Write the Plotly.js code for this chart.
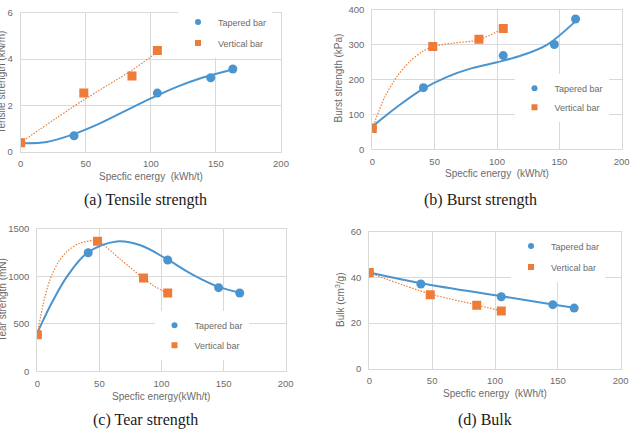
<!DOCTYPE html>
<html>
<head>
<meta charset="utf-8">
<script src="https://cdn.plot.ly/plotly-3.0.1.min.js"></script>
<style>html,body{margin:0;padding:0;background:#fff}#chart{width:630px;height:436px}</style>
</head>
<body>
<div id="chart"></div>
<script>
// ---------- data ----------
const taperedEnergy = [0, 41, 105, 146, 163];
const verticalEnergy = [0, 48.5, 85.5, 105];

const tensileTapered = [0.39, 0.69, 2.53, 3.19, 3.57];
const tensileVertical = [0.39, 2.53, 3.27, 4.37];
const burstTapered = [62, 177, 269, 301, 374];
const burstVertical = [60, 295, 316, 347];
const tearTapered = [386, 1250, 1173, 882, 825];
const tearVertical = [386, 1370, 983, 825];
const bulkTapered = [42, 37.2, 31.6, 28.1, 26.6];
const bulkVertical = [42.2, 32.5, 27.8, 25.3];

// trend curves as drawn in the reference
const tensileTaperedFitX = [0, 20, 40, 60, 80, 100, 120, 140, 163];
const tensileTaperedFitY = [0.37, 0.42, 0.74, 1.2, 1.75, 2.3, 2.8, 3.2, 3.55];
const tensileVerticalFitX = [0, 48, 85, 105];
const tensileVerticalFitY = [0.4, 2.22, 3.5, 4.3];

const burstTaperedFitX = [0, 20, 40, 60, 80, 100, 120, 140, 163];
const burstTaperedFitY = [65, 122, 172, 208, 233, 250, 270, 300, 368];
const burstVerticalFitX = [0, 10, 20, 30, 40, 48, 65, 85, 105];
const burstVerticalFitY = [60, 150, 210, 252, 280, 294, 305, 314, 347];

const tearTaperedFitX = [0, 5, 12, 24, 40, 64, 83, 105, 125, 146, 163];
const tearTaperedFitY = [404, 545, 730, 1000, 1245, 1368, 1328, 1177, 1020, 890, 830];
const tearVerticalFitX = [0, 5, 10, 17, 24, 34, 45, 49, 67, 85, 95, 105];
const tearVerticalFitY = [400, 720, 960, 1150, 1265, 1350, 1378, 1372, 1180, 985, 890, 825];

const bulkTaperedFitX = [0, 41, 105, 146, 163];
const bulkTaperedFitY = [42.2, 37.5, 31.8, 28.2, 26.8];
const bulkVerticalFitX = [0, 48.5, 85.5, 105];
const bulkVerticalFitY = [42, 32.8, 28, 25.3];

const seriesNames = ['Tapered bar', 'Vertical bar'];
const captions = ['(a) Tensile strength', '(b) Burst strength', '(c) Tear strength', '(d) Bulk'];
const yTitles = ['Tensile strength (kN/m)', 'Burst strength (kPa)', 'Tear strength (mN)', 'Bulk (cm<sup>3</sup>/g)'];
const xTitles = ['Specfic energy  (kWh/t)', 'Specfic energy  (kWh/t)', 'Specfic energy(kWh/t)', 'Specfic energy  (kWh/t)'];
const yRanges = [[0, 6], [0, 400], [0, 1500], [0, 60]];
const yDticks = [2, 100, 500, 20];

// ---------- styling / layout ----------
const W = 630, H = 436;
const BLUE = '#4a95d0', ORANGE = '#ee7b38', GRID = '#d9d9d9', TXT = '#6b6b6b';
const FONT = 'Liberation Sans, Arial, sans-serif';
const fx = v => v / W, fy = v => 1 - v / H;

// pixel boxes of each plot area [left, right, top, bottom]
const boxes = [[20.7, 281, 12.7, 151.7], [372.3, 621.7, 10, 149.3], [37.3, 285.7, 229, 371.3], [369.3, 620.7, 232, 368.7]];
const captionPos = [[145, 200], [481, 200], [145, 420], [485, 420]];
const xTitlePos = [[151, 177], [497, 174], [161, 396], [495, 393]];
const yTitlePos = [[1.5, 82], [337.5, 78], [1.5, 300], [340, 300]];
const legendPos = [[178, 7.5, 2], [514.5, 73.8, 0], [154.5, 310.8, 1], [511, 231.5, 2]];

const tapY = [tensileTapered, burstTapered, tearTapered, bulkTapered];
const verY = [tensileVertical, burstVertical, tearVertical, bulkVertical];
const tapFX = [tensileTaperedFitX, burstTaperedFitX, tearTaperedFitX, bulkTaperedFitX];
const tapFY = [tensileTaperedFitY, burstTaperedFitY, tearTaperedFitY, bulkTaperedFitY];
const verFX = [tensileVerticalFitX, burstVerticalFitX, tearVerticalFitX, bulkVerticalFitX];
const verFY = [tensileVerticalFitY, burstVerticalFitY, tearVerticalFitY, bulkVerticalFitY];

const traces = [];
const layout = {
  width: W, height: H, margin: {l: 0, r: 0, t: 0, b: 0},
  paper_bgcolor: '#fff', plot_bgcolor: '#fff', showlegend: true,
  font: {family: FONT, color: TXT, size: 10},
  annotations: []
};

for (let i = 0; i < 4; i++) {
  const s = i === 0 ? '' : String(i + 1);
  const xa = 'x' + s, ya = 'y' + s;
  const leg = i === 0 ? 'legend' : 'legend' + (i + 1);
  const b = boxes[i];
  layout['xaxis' + s] = {
    domain: [fx(b[0]), fx(b[1])], anchor: ya, range: [0, 200], dtick: 50,
    showgrid: true, gridcolor: GRID, gridwidth: 1, zeroline: false,
    showline: true, mirror: true, linecolor: GRID, linewidth: 1,
    ticks: '', ticklabelstandoff: 3, tickfont: {size: 9.5, color: TXT}, fixedrange: true
  };
  layout['yaxis' + s] = {
    domain: [fy(b[3]), fy(b[2])], anchor: xa, range: yRanges[i], dtick: yDticks[i],
    showgrid: true, gridcolor: GRID, gridwidth: 1, zeroline: false,
    showline: true, mirror: true, linecolor: GRID, linewidth: 1,
    ticks: '', ticklabelstandoff: 5, tickfont: {size: 9.5, color: TXT}, fixedrange: true
  };
  const lp = legendPos[i];
  layout[leg] = {
    x: fx(lp[0]), y: fy(lp[1]), xanchor: 'left', yanchor: 'top',
    bgcolor: '#fff', borderwidth: 0, font: {size: 9, color: TXT, family: FONT},
    traceorder: 'grouped', tracegroupgap: lp[2], itemclick: false, itemdoubleclick: false
  };
  // trend curves
  traces.push({x: tapFX[i], y: tapFY[i], xaxis: xa, yaxis: ya, mode: 'lines', showlegend: false,
    line: {color: BLUE, width: 2, shape: 'spline', smoothing: 1}, hoverinfo: 'skip'});
  traces.push({x: verFX[i], y: verFY[i], xaxis: xa, yaxis: ya, mode: 'lines', showlegend: false,
    line: {color: ORANGE, width: 1.2, dash: '1.5px,1.5px', shape: 'spline', smoothing: 0.8}, hoverinfo: 'skip'});
  // data points
  traces.push({x: taperedEnergy, y: tapY[i], xaxis: xa, yaxis: ya, mode: 'markers', showlegend: false,
    marker: {color: BLUE, size: 9, symbol: 'circle'}});
  traces.push({x: verticalEnergy, y: verY[i], xaxis: xa, yaxis: ya, mode: 'markers', showlegend: false,
    marker: {color: ORANGE, size: 9, symbol: 'square'}});
  // legend entries (small symbols, as in the reference)
  traces.push({x: [null], y: [null], xaxis: xa, yaxis: ya, mode: 'markers', name: seriesNames[0],
    legend: leg, legendgroup: 'tap' + i, showlegend: true,
    marker: {color: BLUE, size: 6, symbol: 'circle'}});
  traces.push({x: [null], y: [null], xaxis: xa, yaxis: ya, mode: 'markers', name: seriesNames[1],
    legend: leg, legendgroup: 'ver' + i, showlegend: true,
    marker: {color: ORANGE, size: 6, symbol: 'square'}});

  layout.annotations.push({text: captions[i], xref: 'paper', yref: 'paper',
    x: fx(captionPos[i][0]), y: fy(captionPos[i][1]), xanchor: 'center', yanchor: 'middle',
    showarrow: false, font: {family: 'Liberation Serif, Times New Roman, serif', size: 16, color: '#1a1a1a'}});
  layout.annotations.push({text: xTitles[i], xref: 'paper', yref: 'paper',
    x: fx(xTitlePos[i][0]), y: fy(xTitlePos[i][1]), xanchor: 'center', yanchor: 'middle',
    showarrow: false, font: {size: 10, color: TXT}});
  layout.annotations.push({text: yTitles[i], xref: 'paper', yref: 'paper', textangle: -90,
    x: fx(yTitlePos[i][0]), y: fy(yTitlePos[i][1]), xanchor: 'center', yanchor: 'middle',
    showarrow: false, font: {size: 10, color: TXT}});
}

Plotly.newPlot('chart', traces, layout, {staticPlot: true, displayModeBar: false});
</script>
</body>
</html>
